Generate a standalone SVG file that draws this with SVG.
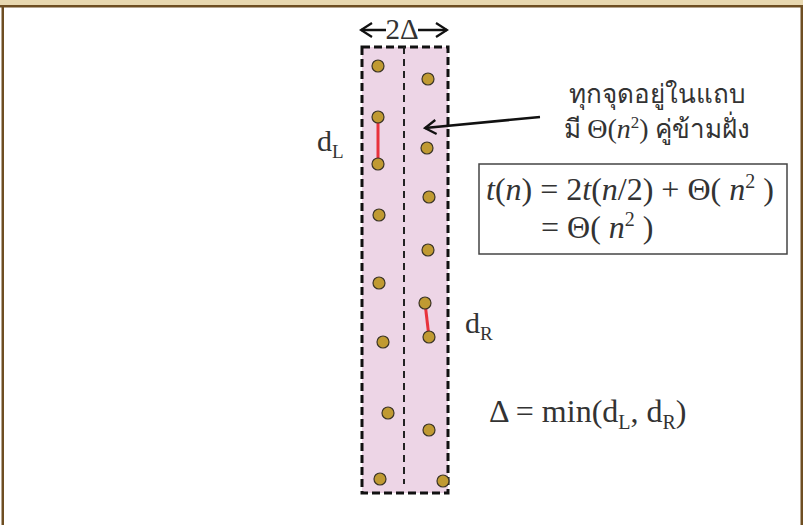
<svg xmlns="http://www.w3.org/2000/svg" width="803" height="525" viewBox="0 0 803 525">
<defs>
<style>
.pt{fill:#C09A32;stroke:#3a3426;stroke-width:1.2}
.red{stroke:#E8323C;stroke-width:3;fill:none}
.ser{font-family:"Liberation Serif","Times New Roman",serif;fill:#333}
.th{font-family:"Noto Sans","DejaVu Sans",sans-serif;fill:#333}
.arr{stroke:#111;stroke-width:2.5;fill:none}
</style>
<marker id="open" viewBox="0 0 14 16" refX="12" refY="8" markerWidth="14" markerHeight="16" markerUnits="userSpaceOnUse" orient="auto">
<path d="M1,1 L12,8 L1,15" fill="none" stroke="#111" stroke-width="2.3"/>
</marker>
</defs>
<rect x="0" y="0" width="803" height="525" fill="#fff"/>
<rect x="0" y="0" width="803" height="5" fill="#E8D8B0"/>
<rect x="0" y="5" width="803" height="2.5" fill="#6E4E22"/>
<rect x="1.5" y="5" width="2.5" height="520" fill="#6E4E22"/>
<rect x="800.5" y="5" width="2.5" height="520" fill="#6E4E22"/>

<g id="strip">
<rect x="362" y="47" width="86" height="446" fill="#EDD5E6" stroke="#111" stroke-width="3" stroke-dasharray="8,4"/>
<line x1="404" y1="47" x2="404" y2="484" stroke="#222" stroke-width="2" stroke-dasharray="7,5"/>
</g>

<g id="connectors">
<line class="arr" x1="386" y1="30" x2="361" y2="30" marker-end="url(#open)"/>
<line class="arr" x1="418" y1="30" x2="447" y2="30" marker-end="url(#open)"/>
<line class="arr" x1="540" y1="117" x2="425" y2="128" marker-end="url(#open)"/>
<line class="red" x1="378" y1="117" x2="378" y2="164"/>
<line class="red" x1="425" y1="303" x2="429" y2="337"/>
</g>

<g id="points">
<circle class="pt" cx="378" cy="66" r="6"/>
<circle class="pt" cx="378" cy="117" r="6"/>
<circle class="pt" cx="378" cy="164" r="6"/>
<circle class="pt" cx="379" cy="215" r="6"/>
<circle class="pt" cx="379" cy="283" r="6"/>
<circle class="pt" cx="383" cy="342" r="6"/>
<circle class="pt" cx="388" cy="413" r="6"/>
<circle class="pt" cx="380" cy="479" r="6"/>
<circle class="pt" cx="428" cy="79" r="6"/>
<circle class="pt" cx="427" cy="148" r="6"/>
<circle class="pt" cx="429" cy="197" r="6"/>
<circle class="pt" cx="428" cy="250" r="6"/>
<circle class="pt" cx="425" cy="303" r="6"/>
<circle class="pt" cx="429" cy="337" r="6"/>
<circle class="pt" cx="429" cy="430" r="6"/>
<circle class="pt" cx="443" cy="481" r="6"/>
</g>

<g id="label-2delta">
<text class="ser" x="402" y="39" font-size="29" text-anchor="middle">2Δ</text>
</g>

<g id="label-dL">
<text class="ser" x="317" y="151" font-size="30">d<tspan font-size="19" dy="7">L</tspan></text>
</g>

<g id="label-dR">
<text class="ser" x="465" y="333" font-size="30">d<tspan font-size="19" dy="7">R</tspan></text>
</g>

<g id="note">
<text class="th" x="657" y="103" font-size="26" text-anchor="middle">ทุกจุดอยู่ในแถบ</text>
<text class="th" x="657" y="138" font-size="26" text-anchor="middle">มี <tspan class="ser" font-size="28">Θ(<tspan font-style="italic">n</tspan><tspan font-size="17" dy="-10">2</tspan><tspan dy="10">)</tspan></tspan> คู่ข้ามฝั่ง</text>
</g>

<g id="formula">
<rect x="479" y="164" width="308" height="90" fill="#fff" stroke="#444" stroke-width="1.5"/>
<text class="ser" x="486" y="200" font-size="32"><tspan font-style="italic">t</tspan>(<tspan font-style="italic">n</tspan>) = 2<tspan font-style="italic">t</tspan>(<tspan font-style="italic">n</tspan>/2) + Θ( <tspan font-style="italic">n</tspan><tspan font-size="20" dy="-12">2</tspan><tspan dy="12"> )</tspan></text>
<text class="ser" x="541" y="238" font-size="32">= Θ( <tspan font-style="italic">n</tspan><tspan font-size="20" dy="-12">2</tspan><tspan dy="12"> )</tspan></text>
</g>

<g id="label-delta">
<text class="ser" x="489" y="422" font-size="32">Δ = min(d<tspan font-size="20" dy="7">L</tspan><tspan dy="-7">, d</tspan><tspan font-size="20" dy="7">R</tspan><tspan dy="-7">)</tspan></text>
</g>
</svg>
